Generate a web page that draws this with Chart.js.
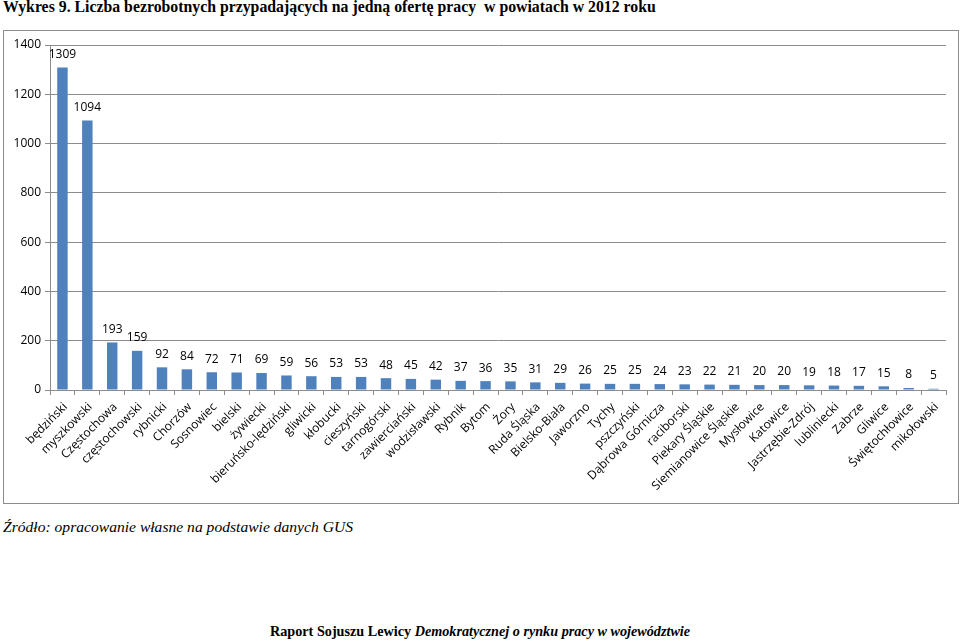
<!DOCTYPE html>
<html>
<head>
<meta charset="utf-8">
<script src="https://cdn.jsdelivr.net/npm/chart.js@4"></script>
<style>
  body { margin: 0; background: #fff; width: 960px; height: 640px; position: relative; overflow: hidden; }
  .title { position: absolute; left: 3px; top: -2px; font: bold 15.8px "Liberation Serif", serif; white-space: nowrap; }
  .box { position: absolute; left: 3px; top: 30px; width: 954px; height: 472px; border: 1px solid #8c8c8c; }
  .source { position: absolute; left: 3px; top: 518px; font: italic 15.6px "Liberation Serif", serif; }
  .footer { position: absolute; left: 270px; top: 623px; font: bold 14.2px "Liberation Serif", serif; white-space: nowrap; }
</style>
</head>
<body>
<div class="title">Wykres 9. Liczba bezrobotnych przypadających na jedną ofertę pracy&nbsp; w powiatach w 2012 roku</div>
<div class="box"><canvas id="chart" width="954" height="472"></canvas></div>
<div class="source">Źródło: opracowanie własne na podstawie danych GUS</div>
<div class="footer">Raport Sojuszu Lewicy <i>Demokratycznej o rynku pracy w województwie</i></div>
<script>
// powiaty i miasta na prawach powiatu
const categories = ['będziński', 'myszkowski', 'Częstochowa', 'częstochowski', 'rybnicki', 'Chorzów',
    'Sosnowiec', 'bielski', 'żywiecki', 'bieruńsko-lędziński', 'gliwicki', 'kłobucki', 'cieszyński',
    'tarnogórski', 'zawierciański', 'wodzisławski', 'Rybnik', 'Bytom', 'Żory', 'Ruda Śląska',
    'Bielsko-Biała', 'Jaworzno', 'Tychy', 'pszczyński', 'Dąbrowa Górnicza', 'raciborski',
    'Piekary Śląskie', 'Siemianowice Śląskie', 'Mysłowice', 'Katowice', 'Jastrzębie-Zdrój',
    'lubliniecki', 'Zabrze', 'Gliwice', 'Świętochłowice', 'mikołowski'];

// liczba bezrobotnych na jedną ofertę pracy
const values = [1309, 1094, 193, 159, 92, 84, 72, 71, 69, 59, 56, 53, 53, 48, 45, 42, 37, 36, 35,
    31, 29, 26, 25, 25, 24, 23, 22, 21, 20, 20, 19, 18, 17, 15, 8, 5];

const yTicks = [0, 200, 400, 600, 800, 1000, 1200, 1400];

// etykiety wartości nad słupkami i ukośne nazwy pod osią
const valueLabels = {
    id: 'valueLabels',
    afterDatasetsDraw(chart) {
        const ctx = chart.ctx;
        const meta = chart.getDatasetMeta(0);
        ctx.save();
        ctx.font = '12px "Open Sans", sans-serif';
        ctx.fillStyle = '#000';
        ctx.textAlign = 'center';
        ctx.textBaseline = 'bottom';
        meta.data.forEach((bar, i) => {
            ctx.fillText(String(values[i]), bar.x, bar.y - 7);
        });
        ctx.restore();

        const xScale = chart.scales.x;
        const axisY = chart.chartArea.bottom;
        ctx.save();
        ctx.font = '12px "Open Sans", sans-serif';
        ctx.fillStyle = '#000';
        ctx.textAlign = 'right';
        ctx.textBaseline = 'middle';
        categories.forEach((name, i) => {
            ctx.save();
            ctx.translate(xScale.getPixelForValue(i) + 3, axisY + 15);
            ctx.rotate(-Math.PI / 4);
            ctx.fillText(name, 0, 0);
            ctx.restore();
        });
        ctx.restore();
    }
};

new Chart(document.getElementById('chart'), {
    type: 'bar',
    data: {
        labels: categories,
        datasets: [{
            data: values,
            backgroundColor: '#4f81bd',
            borderWidth: 0,
            categoryPercentage: 1,
            barPercentage: 0.42
        }]
    },
    options: {
        responsive: false,
        animation: false,
        layout: { padding: { top: 14, right: 12, left: 0, bottom: 0 } },
        plugins: { legend: { display: false }, tooltip: { enabled: false } },
        scales: {
            y: {
                min: 0,
                max: 1400,
                afterBuildTicks(scale) { scale.ticks = yTicks.map(v => ({ value: v })); },
                afterFit(scale) { scale.width = 46; },
                ticks: { color: '#000', font: { family: 'Open Sans', size: 12 }, padding: 4, callback: v => String(v) },
                grid: { color: '#8c8c8c', tickLength: 5, tickColor: '#8c8c8c' },
                border: { color: '#8c8c8c' }
            },
            x: {
                afterFit(scale) { scale.height = 113; },
                ticks: { display: false, autoSkip: false },
                grid: { offset: true, drawOnChartArea: false, tickLength: 5, color: '#8c8c8c' },
                border: { color: '#8c8c8c' }
            }
        }
    },
    plugins: [valueLabels]
});
</script>
</body>
</html>
